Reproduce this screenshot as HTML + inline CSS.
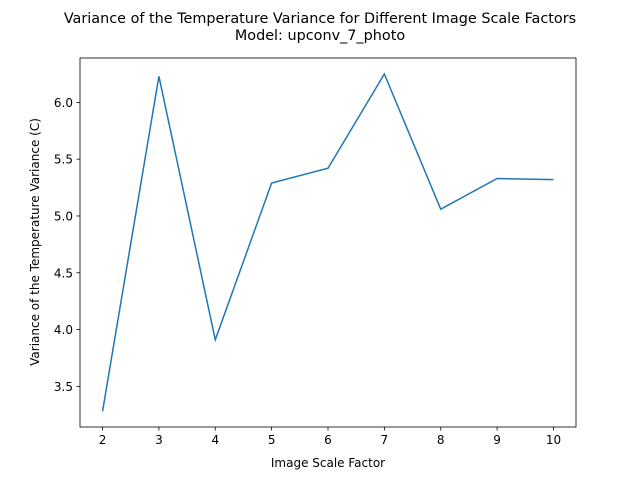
<!DOCTYPE html>
<html><head><meta charset="utf-8"><style>
body{margin:0;background:#fff;}
svg{font-family:"DejaVu Sans","Liberation Sans",sans-serif;}
</style></head><body>
<svg id="chart" width="640" height="480">
<rect x="0" y="0" width="640" height="480" fill="#fff"/>
<text x="320" y="23" text-anchor="middle" font-size="14.4">Variance of the Temperature Variance for Different Image Scale Factors</text>
<text x="320" y="40" text-anchor="middle" font-size="14.4">Model: upconv_7_photo</text>
<g id="ticks"></g>
<path id="line" fill="none" stroke="#1f77b4" stroke-width="1.5"/>
<rect x="80" y="58" width="496" height="369" fill="none" stroke="#000" stroke-width="0.8"/>
<text x="328" y="467" text-anchor="middle" font-size="12">Image Scale Factor</text>
<text transform="translate(39,242) rotate(-90)" text-anchor="middle" font-size="12">Variance of the Temperature Variance (C)</text>
</svg>
<script>
const categories=[2,3,4,5,6,7,8,9,10];
const values=[3.28,6.23,3.91,5.29,5.42,6.25,5.06,5.33,5.32];
const xTicks=[2,3,4,5,6,7,8,9,10];
const yTicks=[3.5,4.0,4.5,5.0,5.5,6.0];
const yTickLabels=["3.5","4.0","4.5","5.0","5.5","6.0"];
const L=80,R=576,T=58,B=427;
const xmin=1.6,xmax=10.4,ymin=3.142,ymax=6.391;
const sx=v=>L+(v-xmin)/(xmax-xmin)*(R-L);
const sy=v=>B-(v-ymin)/(ymax-ymin)*(B-T);
const ns="http://www.w3.org/2000/svg";
const g=document.getElementById('ticks');
function mk(tag,a){const e=document.createElementNS(ns,tag);for(const k in a)e.setAttribute(k,a[k]);g.appendChild(e);return e;}
xTicks.forEach(t=>{
 const l=mk('line',{x1:sx(t),x2:sx(t),y1:B,y2:B+3.5,stroke:'#000','stroke-width':0.8});
 
 
 const tx=mk('text',{x:sx(t),y:B+17,'text-anchor':'middle','font-size':12});
 tx.textContent=t;
 
 
});
yTicks.forEach((t,i)=>{
 const l=mk('line',{x1:L-3.5,x2:L,y1:sy(t),y2:sy(t),stroke:'#000','stroke-width':0.8});
 
 
 const tx=mk('text',{x:L-7,y:sy(t)+4.5,'text-anchor':'end','font-size':12});
 tx.textContent=yTickLabels[i];
 
 
});
document.getElementById('line').setAttribute('d',categories.map((c,i)=>(i?'L':'M')+sx(c)+','+sy(values[i])).join(' '));
</script>
</body></html>
